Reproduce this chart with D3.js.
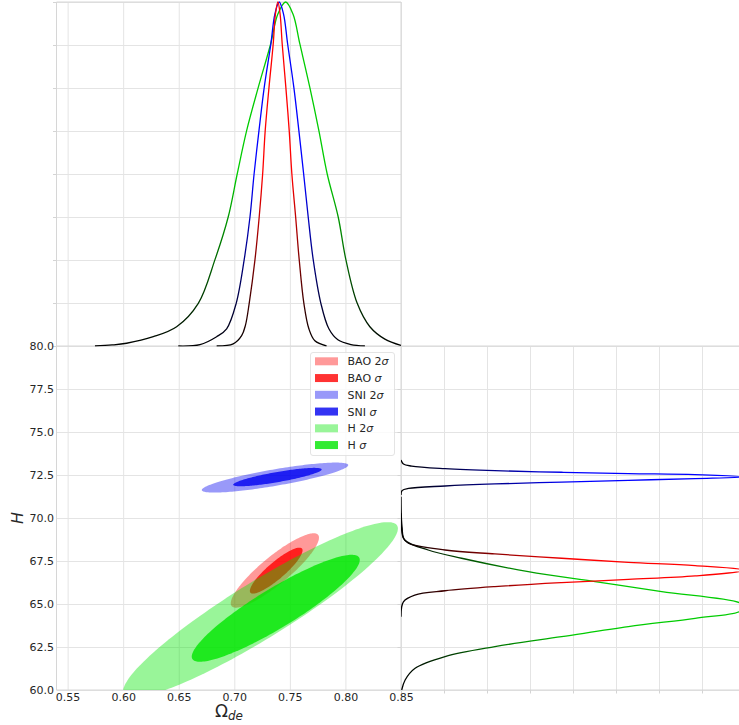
<!DOCTYPE html>
<html><head><meta charset="utf-8">
<script src="https://cdn.jsdelivr.net/npm/d3@7"></script>
<style>
body{margin:0;background:#fff}
svg{display:block}
text{font-family:"DejaVu Sans",sans-serif;fill:#262626}
.grid line{stroke:#e4e4e4;stroke-width:1}
.grid path{display:none}
.tk line{stroke:#d4d4d4;stroke-width:1}
.tk path{display:none}
.lab path,.lab line{display:none}
</style>
</head><body>
<svg id="c" width="739" height="725"></svg>
<script>
// ---------------- data ----------------
const omegaTicks = [0.55, 0.60, 0.65, 0.70, 0.75, 0.80, 0.85];
const hTicks = [60, 62.5, 65, 67.5, 70, 72.5, 75, 77.5, 80];
const densityTicks = [0, 0.125, 0.25, 0.375, 0.5, 0.625, 0.75, 0.875, 1];

// confidence contours (centre, half-extent in each parameter, correlation)
const contourLabels    = ["BAO 2σ", "BAO σ", "SNI 2σ", "SNI σ", "H 2σ", "H σ"];
const contourOmega     = [0.7365, 0.7377, 0.7366, 0.7388, 0.7236, 0.7373];
const contourH         = [66.95, 66.94, 72.35, 72.38, 64.66, 64.75];
const contourHalfOmega = [0.0397, 0.0237, 0.0659, 0.0398, 0.1236, 0.0756];
const contourHalfH     = [2.163, 1.337, 0.872, 0.535, 5.10, 3.11];
const contourRho       = [0.88, 0.88, 0.83, 0.83, 0.926, 0.903];

// marginal likelihood in Omega_de : [Omega, relative likelihood]
const baoOmegaProfile = [[0.6841,0],[0.6990,0.006],[0.7066,0.03],[0.7100,0.06],[0.7134,0.124],[0.7186,0.251],[0.7224,0.375],[0.7255,0.5],[0.7278,0.626],[0.7312,0.751],[0.7350,0.878],[0.7370,0.965],[0.7392,1.0],[0.7412,0.965],[0.7431,0.878],[0.7464,0.751],[0.7494,0.626],[0.7518,0.5],[0.7552,0.375],[0.7584,0.251],[0.7626,0.124],[0.7671,0.05],[0.7725,0.015],[0.7830,0]];
const sniOmegaProfile = [[0.6496,0],[0.6691,0.004],[0.6841,0.027],[0.6931,0.05],[0.7017,0.124],[0.7089,0.251],[0.7141,0.375],[0.7178,0.5],[0.7222,0.626],[0.7269,0.751],[0.7329,0.878],[0.7365,0.965],[0.7404,1.0],[0.7443,0.965],[0.7480,0.878],[0.7536,0.751],[0.7581,0.626],[0.7624,0.5],[0.7665,0.375],[0.7710,0.251],[0.7779,0.124],[0.7851,0.05],[0.7932,0.018],[0.8050,0.004],[0.8175,0]];
const hOmegaProfile = [[0.5746,0],[0.5900,0.003],[0.6031,0.008],[0.6271,0.027],[0.6481,0.056],[0.6676,0.124],[0.6826,0.251],[0.6945,0.375],[0.7026,0.5],[0.7111,0.626],[0.7215,0.751],[0.7327,0.878],[0.7392,0.965],[0.7462,1.0],[0.7528,0.965],[0.7590,0.878],[0.7680,0.751],[0.7761,0.626],[0.7836,0.5],[0.7935,0.375],[0.8004,0.251],[0.8106,0.124],[0.8220,0.056],[0.8355,0.02],[0.8500,0.002]];

// marginal likelihood in H : [H, relative likelihood]
const sniHProfile = [[73.37,0],[73.14,0.007],[73.02,0.031],[72.87,0.128],[72.75,0.273],[72.66,0.467],[72.58,0.661],[72.52,0.855],[72.39,1.0],[72.29,0.855],[72.19,0.661],[72.09,0.467],[71.98,0.273],[71.86,0.128],[71.72,0.022],[71.59,0.003],[71.34,0]];
const baoHProfile = [[70.27,0],[68.82,0.007],[68.53,0.022],[68.14,0.128],[67.91,0.273],[67.66,0.467],[67.42,0.661],[67.23,0.855],[66.96,1.0],[66.63,0.855],[66.43,0.661],[66.24,0.467],[66.01,0.273],[65.77,0.128],[65.52,0.04],[65.13,0.007],[64.26,0]];
const hHProfile = [[71.24,0],[69.49,0.003],[68.72,0.011],[68.14,0.079],[67.66,0.176],[66.88,0.370],[66.30,0.564],[65.72,0.758],[65.08,0.983],[64.84,1.0],[64.55,0.983],[64.17,0.855],[63.68,0.661],[63.10,0.467],[62.52,0.273],[61.94,0.128],[61.26,0.041],[60.58,0.012],[60.0,0.002]];

// ---------------- drawing ----------------
const svg = d3.select("#c");
const L = 56.5, R = 401, T = 2, MID = 346, B = 690, RR = 745;
const x = d3.scaleLinear().domain([0.54, 0.85]).range([L, R]);
const y = d3.scaleLinear().domain([60, 80]).range([B, MID]);
const dTop = d3.scaleLinear().domain([0, 1]).range([MID, T]);
const dRight = d3.scaleLinear().domain([0, 1]).range([R, RR]);

const baseColors = {BAO: [255,0,0], SNI: [0,0,240], H: [0,230,0]};
const lineColors = {BAO: "#ff0000", SNI: "#0000ff", H: "#00cc00"};
const rgb = c => `rgb(${c[0]},${c[1]},${c[2]})`;

const defs = svg.append("defs");
function clip(id, x0, y0, w, h){
  defs.append("clipPath").attr("id", id).append("rect")
    .attr("x", x0).attr("y", y0).attr("width", w).attr("height", h);
}
clip("clipMain", L, MID, R - L, B - MID);
clip("clipTop", L, 0, R - L, MID + 0.5);
clip("clipRight", R, MID, RR - R, B - MID + 0.5);

// grids
const gGrid = svg.append("g");
gGrid.append("g").attr("class","grid").attr("transform",`translate(0,${B})`)
  .call(d3.axisBottom(x).tickValues(omegaTicks).tickSize(-(B - T)).tickFormat(""));
gGrid.append("g").attr("class","grid").attr("transform",`translate(${L},0)`)
  .call(d3.axisLeft(y).tickValues(hTicks).tickSize(-(RR - L)).tickFormat(""));
gGrid.append("g").attr("class","grid").attr("transform",`translate(${L},0)`)
  .call(d3.axisLeft(dTop).tickValues(densityTicks).tickSize(-(R - L)).tickFormat(""));
gGrid.append("g").attr("class","grid").attr("transform",`translate(0,${B})`)
  .call(d3.axisBottom(dRight).tickValues(densityTicks).tickSize(-(B - MID)).tickFormat(""));

// small ticks
svg.append("g").attr("class","tk").attr("transform",`translate(${L},0)`)
  .call(d3.axisLeft(dTop).tickValues(densityTicks).tickSize(3.5).tickFormat(""));
svg.append("g").attr("class","tk").attr("transform",`translate(${R},0)`)
  .call(d3.axisLeft(y).tickValues(hTicks).tickSize(3.5).tickFormat(""));
svg.append("g").attr("class","tk").attr("transform",`translate(0,${B})`)
  .call(d3.axisBottom(dRight).tickValues(densityTicks).tickSize(3.5).tickFormat(""));

// spines
const spine = "#d6d6d6";
[[L,T,L,B],[L,T,R,T],[R,T,R,B],[L,B,739,B],[L,MID,739,MID]].forEach(s=>{
  svg.append("line").attr("x1",s[0]).attr("y1",s[1]).attr("x2",s[2]).attr("y2",s[3])
    .attr("stroke",spine).attr("stroke-width",1);
});

// contours
const gMain = svg.append("g").attr("clip-path","url(#clipMain)");
contourLabels.forEach((lab, i) => {
  const key = lab.split(" ")[0];
  const a = contourHalfOmega[i], b = contourHalfH[i], r = contourRho[i];
  const s = Math.sqrt(1 - r * r);
  const pts = d3.range(0, 361, 2).map(deg => {
    const t = deg * Math.PI / 180;
    return [x(contourOmega[i] + a * Math.cos(t)), y(contourH[i] + b * (r * Math.cos(t) + s * Math.sin(t)))];
  });
  gMain.append("path").attr("d", d3.line().curve(d3.curveLinearClosed)(pts))
    .attr("fill", rgb(baseColors[key]))
    .attr("fill-opacity", lab.includes("2σ") ? 0.4 : 0.8);
});

// legend
const lg = svg.append("g");
lg.append("rect").attr("x",310.5).attr("y",352.5).attr("width",84).attr("height",103).attr("rx",2.5)
  .attr("fill","#fff").attr("fill-opacity",0.8).attr("stroke","#dddddd").attr("stroke-opacity",0.8);
contourLabels.forEach((lab, i) => {
  const key = lab.split(" ")[0];
  const cy = 361.3 + i * 16.75;
  lg.append("rect").attr("x",315).attr("y",cy - 4).attr("width",23).attr("height",8)
    .attr("fill", rgb(baseColors[key])).attr("fill-opacity", lab.includes("2σ") ? 0.4 : 0.8);
  const t = lg.append("text").attr("x",347.5).attr("y",cy + 4).attr("font-size",11);
  const idx = lab.indexOf("σ");
  t.append("tspan").text(lab.slice(0, idx));
  t.append("tspan").attr("font-style","italic").text("σ");
});

// gradients + marginal curves
const series = [
  {key:"H", top:hOmegaProfile, right:hHProfile},
  {key:"SNI", top:sniOmegaProfile, right:sniHProfile},
  {key:"BAO", top:baoOmegaProfile, right:baoHProfile}
];
const smooth = d3.curveCatmullRom.alpha(0.5);
const lineTop = d3.line().x(d => x(d[0])).y(d => dTop(d[1])).curve(smooth);
const lineRight = d3.line().x(d => dRight(d[1])).y(d => y(d[0])).curve(smooth);
const gTop = svg.append("g").attr("clip-path","url(#clipTop)");
const gRight = svg.append("g").attr("clip-path","url(#clipRight)");
series.forEach(s => {
  const gt = defs.append("linearGradient").attr("id","gt"+s.key).attr("gradientUnits","userSpaceOnUse")
    .attr("x1",0).attr("y1",dTop(0)).attr("x2",0).attr("y2",dTop(0.5));
  gt.append("stop").attr("offset",0).attr("stop-color","#000");
  gt.append("stop").attr("offset",1).attr("stop-color",lineColors[s.key]);
  const gr = defs.append("linearGradient").attr("id","gr"+s.key).attr("gradientUnits","userSpaceOnUse")
    .attr("x1",dRight(0)).attr("y1",0).attr("x2",dRight(0.5)).attr("y2",0);
  gr.append("stop").attr("offset",0).attr("stop-color","#000");
  gr.append("stop").attr("offset",1).attr("stop-color",lineColors[s.key]);
  gTop.append("path").attr("d", lineTop(s.top)).attr("fill","none")
    .attr("stroke",`url(#gt${s.key})`).attr("stroke-width",1.3);
  gRight.append("path").attr("d", lineRight(s.right)).attr("fill","none")
    .attr("stroke",`url(#gr${s.key})`).attr("stroke-width",1.3);
});

// axis labels
const ya = svg.append("g").attr("class","lab").attr("transform",`translate(${L},0)`)
  .call(d3.axisLeft(y).tickValues(hTicks).tickFormat(d3.format(".1f")).tickSize(0).tickPadding(2.5));
ya.selectAll("text").attr("font-size",11).attr("font-family","DejaVu Sans").attr("fill","#262626");
const xa = svg.append("g").attr("class","lab").attr("transform",`translate(0,${B})`)
  .call(d3.axisBottom(x).tickValues(omegaTicks).tickFormat(d3.format(".2f")).tickSize(0).tickPadding(3.2));
xa.selectAll("text").attr("font-size",11).attr("font-family","DejaVu Sans").attr("fill","#262626");

const xl = svg.append("text").attr("x",229).attr("y",717).attr("text-anchor","middle");
xl.append("tspan").attr("font-size",17).text("Ω");
xl.append("tspan").attr("font-size",12).attr("font-style","italic").attr("dy",3).text("de");

svg.append("text").attr("transform","translate(23,518) rotate(-90)").attr("text-anchor","middle")
  .attr("font-size",16).attr("font-style","italic").text("H");
</script>
</body></html>
